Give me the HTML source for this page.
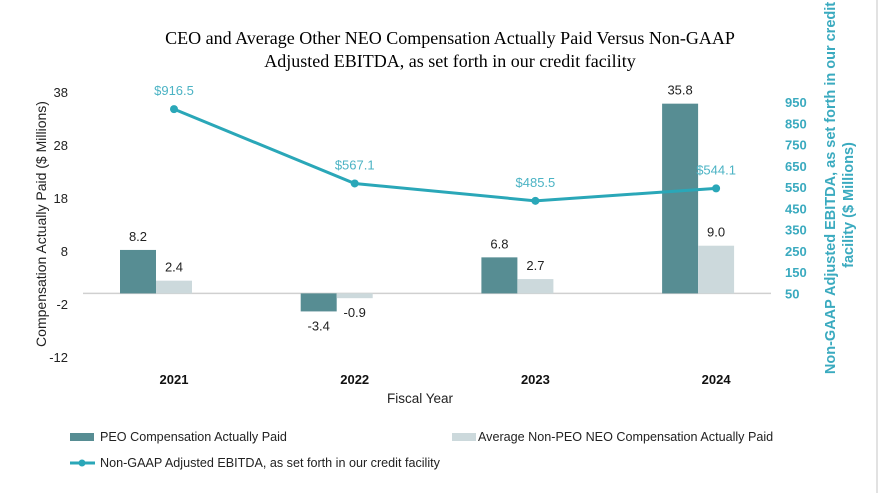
<!DOCTYPE html>
<html><head><meta charset="utf-8"><style>
body{margin:0;background:#fff;}
svg{display:block;font-family:"Liberation Sans",Arial,sans-serif;}
</style></head><body>
<svg id="chart" width="883" height="493">
<line x1="877" y1="0" x2="877" y2="493" stroke="#d8d8d8" stroke-width="1.5"/>
<text x="450" y="44" text-anchor="middle" font-family="Liberation Serif,serif" font-size="18" fill="#000">CEO and Average Other NEO Compensation Actually Paid Versus Non-GAAP</text>
<text x="450" y="67" text-anchor="middle" font-family="Liberation Serif,serif" font-size="18" fill="#000">Adjusted EBITDA, as set forth in our credit facility</text>
<g id="plot"></g>
<text transform="translate(46,224) rotate(-90)" text-anchor="middle" font-size="14" fill="#222">Compensation Actually Paid ($ Millions)</text>
<text transform="translate(835,188) rotate(-90)" text-anchor="middle" font-size="14.5" font-weight="bold" fill="#3aaabf">Non-GAAP Adjusted EBITDA, as set forth in our credit</text>
<text transform="translate(853,205) rotate(-90)" text-anchor="middle" font-size="14.5" font-weight="bold" fill="#3aaabf">facility ($ Millions)</text>
<text x="420" y="403" text-anchor="middle" font-size="13.5" fill="#222">Fiscal Year</text>
<rect x="70" y="433" width="24" height="8" fill="#578d93"/>
<text x="100" y="441" font-size="12.6" fill="#222">PEO Compensation Actually Paid</text>
<rect x="452" y="433" width="24" height="8" fill="#ccd9dc"/>
<text x="478" y="441" font-size="12.6" fill="#222">Average Non-PEO NEO Compensation Actually Paid</text>
<line x1="70" y1="463" x2="95" y2="463" stroke="#2aa7b8" stroke-width="3"/>
<circle cx="82" cy="463" r="3.5" fill="#2aa7b8"/>
<text x="100" y="467" font-size="12.6" fill="#222">Non-GAAP Adjusted EBITDA, as set forth in our credit facility</text>
</svg>
<script>
const years=["2021","2022","2023","2024"];
const peo=[8.2,-3.4,6.8,35.8];
const neo=[2.4,-0.9,2.7,9.0];
const ebitda=[916.5,567.1,485.5,544.1];
const leftTicks=[38,28,18,8,-2,-12];
const rightTicks=[950,850,750,650,550,450,350,250,150,50];
const NS="http://www.w3.org/2000/svg";
const g=document.getElementById('plot');
const yL=v=>293.4-v*5.3;
const yR=v=>293.5-(v-50)*191.5/900;
const xC=i=>174+i*180.7;
function mk(t,a,txt){const e=document.createElementNS(NS,t);for(const k in a)e.setAttribute(k,a[k]);if(txt!==undefined)e.textContent=txt;g.appendChild(e);return e;}
leftTicks.forEach(t=>{const e=mk('text',{x:68,y:yL(t)+5,'text-anchor':'end','font-size':13,fill:'#222'},t);

});
rightTicks.forEach(t=>{const e=mk('text',{x:785,y:yR(t)+5,'font-size':13,'font-weight':'bold',fill:'#3aaabf'},t);

});
const ax=mk('line',{x1:83,y1:yL(0),x2:771,y2:yL(0),stroke:'#d0d0d0','stroke-width':1.5});


years.forEach((y,i)=>{
 const c=xC(i);
 const a=peo[i],b=neo[i];
 const r1=mk('rect',{x:c-54,y:Math.min(yL(a),yL(0)),width:36,height:Math.abs(yL(a)-yL(0)),fill:'#578d93'});
 
 
 const r2=mk('rect',{x:c-18,y:Math.min(yL(b),yL(0)),width:36,height:Math.abs(yL(b)-yL(0)),fill:'#ccd9dc'});
 
 
 const l1=mk('text',{x:c-36,y:a>=0?yL(a)-9:yL(a)+19,'text-anchor':'middle','font-size':13,fill:'#222'},a.toFixed(1));
 
 
 const l2=mk('text',{x:c,y:b>=0?yL(b)-9:yL(b)+19,'text-anchor':'middle','font-size':13,fill:'#222'},b.toFixed(1));
 
 
 const yl=mk('text',{x:c,y:384,'text-anchor':'middle','font-size':13,'font-weight':'bold',fill:'#111'},y);
 
 
});
const pts=ebitda.map((v,i)=>xC(i)+','+yR(v)).join(' ');
const pl=mk('polyline',{points:pts,fill:'none',stroke:'#2aa7b8','stroke-width':3});


ebitda.forEach((v,i)=>{
 const c=mk('circle',{cx:xC(i),cy:yR(v),r:4,fill:'#2aa7b8'});
 
 
 const t=mk('text',{x:xC(i),y:yR(v)-14,'text-anchor':'middle','font-size':13,fill:'#4bb3c4'},'$'+v.toFixed(1));
 
 
});
</script>
</body></html>
